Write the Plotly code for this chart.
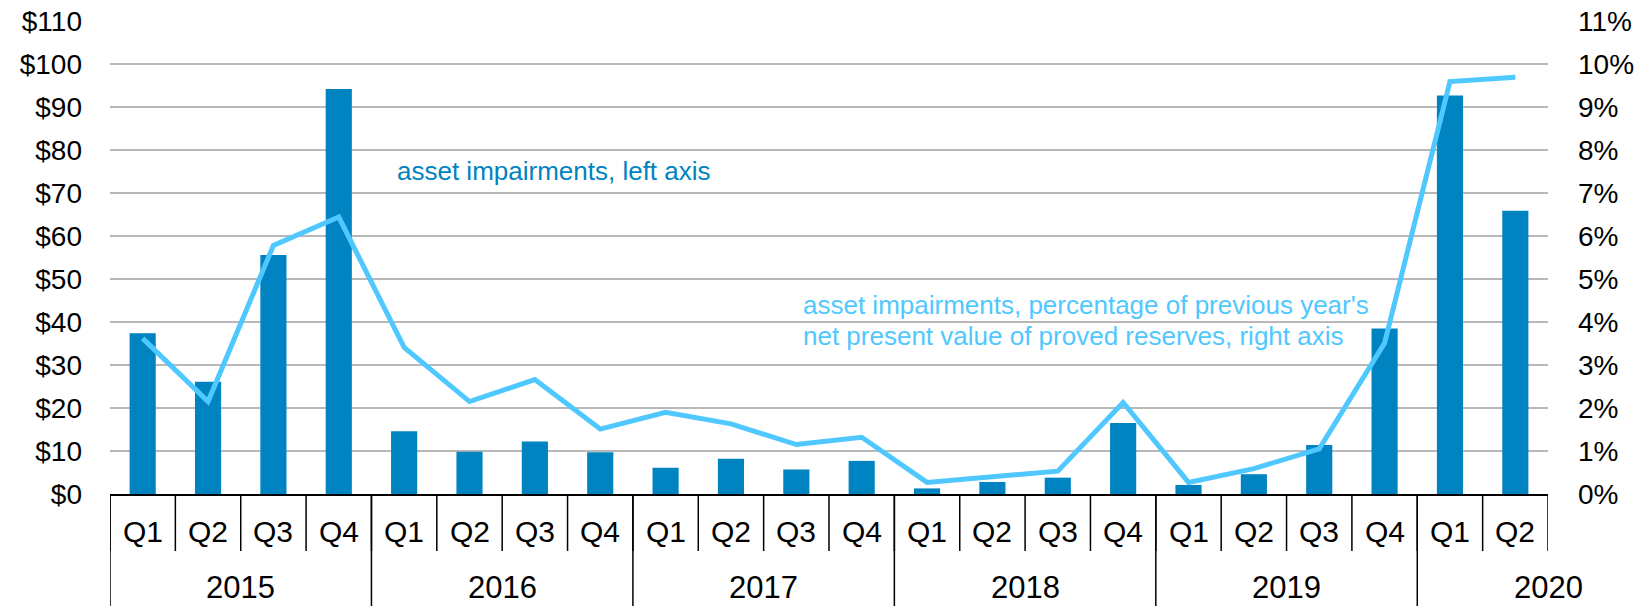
import plotly.graph_objects as go

years = ["2015", "2016", "2017", "2018", "2019", "2020"]
quarters_per_year = [4, 4, 4, 4, 4, 2]
quarter_labels = ["Q1", "Q2", "Q3", "Q4"]

impairments_bn = [37.4, 26.1, 55.6, 94.2,
                  14.6, 9.8, 12.2, 9.7,
                  6.1, 8.2, 5.7, 7.7,
                  1.3, 2.8, 3.8, 16.5,
                  2.1, 4.6, 11.4, 38.5,
                  92.7, 65.9]
impairments_pct = [3.62, 2.15, 5.78, 6.44,
                   3.41, 2.15, 2.66, 1.51,
                   1.90, 1.63, 1.15, 1.32,
                   0.27, 0.40, 0.53, 2.13,
                   0.27, 0.59, 1.05, 3.51,
                   9.59, 9.69]

left_ticks = list(range(0, 111, 10))
right_ticks = list(range(0, 12, 1))

BAR = "#0083c1"
LINE = "#4fc8ff"
FONT = "Liberation Sans, Arial, sans-serif"

cats = []
q_text = []
for y, n in zip(years, quarters_per_year):
    for q in range(n):
        cats.append(len(cats))
        q_text.append(quarter_labels[q])

fig = go.Figure()
fig.add_trace(go.Bar(x=cats, y=impairments_bn, marker=dict(color=BAR, line=dict(width=0)),
                     yaxis="y", showlegend=False))
fig.add_trace(go.Scatter(x=cats, y=impairments_pct, mode="lines",
                         line=dict(color=LINE, width=5), yaxis="y2", showlegend=False))

n = len(cats)
shapes = []
for i in range(n + 1):
    shapes.append(dict(type="line", xref="x", yref="paper", ysizemode="pixel", yanchor=0,
                       x0=i - 0.5, x1=i - 0.5, y0=0, y1=-57,
                       line=dict(color="black", width=1.5)))
start = 0
bounds = [0]
for c in quarters_per_year:
    start += c
    bounds.append(start)
for b in bounds[:-1]:
    shapes.append(dict(type="line", xref="x", yref="paper", ysizemode="pixel", yanchor=0,
                       x0=b - 0.5, x1=b - 0.5, y0=0, y1=-115,
                       line=dict(color="black", width=1.5)))

annotations = []
for i, t in zip(cats, q_text):
    annotations.append(dict(x=i, y=0, xref="x", yref="paper", yshift=-37, yanchor="middle",
                            text=t, showarrow=False, font=dict(family=FONT, size=30, color="black")))
for y, b in zip(years, bounds[:-1]):
    annotations.append(dict(x=b + 1.5, y=0, xref="x", yref="paper", yshift=-93, yanchor="middle",
                            text=y, showarrow=False, font=dict(family=FONT, size=31, color="black")))

annotations.append(dict(x=0.198, y=0.683, xref="paper", yref="paper", xanchor="left", yanchor="middle",
                        text="asset impairments, left axis", showarrow=False,
                        font=dict(family=FONT, size=26, color=BAR)))
annotations.append(dict(x=0.4804, y=0.3996, xref="paper", yref="paper", xanchor="left", yanchor="middle",
                        text="asset impairments, percentage of previous year's", showarrow=False,
                        font=dict(family=FONT, size=26, color=LINE)))
annotations.append(dict(x=0.4804, y=0.334, xref="paper", yref="paper", xanchor="left", yanchor="middle",
                        text="net present value of proved reserves, right axis", showarrow=False,
                        font=dict(family=FONT, size=26, color=LINE)))

fig.update_layout(
    width=1640, height=598,
    margin=dict(l=102, r=100, t=13, b=112, autoexpand=False),
    plot_bgcolor="white", paper_bgcolor="white",
    bargap=0.6,
    xaxis=dict(range=[-0.5, n - 0.5], showticklabels=False, showgrid=False, zeroline=False,
               showline=True, linecolor="black", linewidth=1.5, ticks="", automargin=False),
    yaxis=dict(range=[0, 110], tickvals=left_ticks, ticktext=["$" + str(v) for v in left_ticks],
               showgrid=True, gridcolor="#b8b8b8", gridwidth=1.5, zeroline=False, showline=False,
               ticks="", ticklabelstandoff=27, ticklabeloverflow="allow", automargin=False,
               tickfont=dict(family=FONT, size=28, color="black")),
    yaxis2=dict(range=[0, 11], tickvals=right_ticks, ticktext=[str(v) + "%" for v in right_ticks],
                overlaying="y", side="right", showgrid=False, zeroline=False, showline=False,
                ticks="", ticklabelstandoff=29, ticklabeloverflow="allow", automargin=False,
                tickfont=dict(family=FONT, size=28, color="black")),
    shapes=shapes,
    annotations=annotations,
    font=dict(family=FONT),
)

fig.write_html("out.html")
